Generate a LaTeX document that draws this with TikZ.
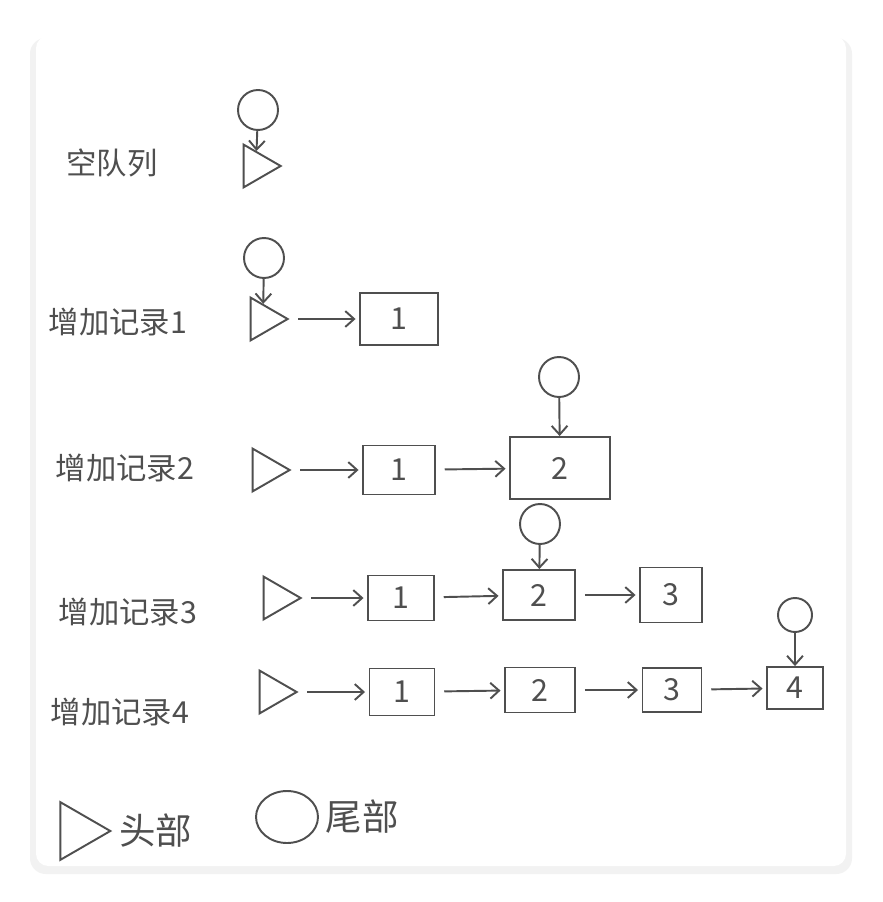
\documentclass[tikz,border=0pt]{standalone}
\usepackage{fontspec}
\setmainfont{Noto Sans CJK SC}
\usetikzlibrary{arrows.meta,shapes.geometric,positioning}
\definecolor{pencil}{HTML}{4F4F4F}
\tikzset{
  head/.style={draw, isosceles triangle, isosceles triangle apex angle=60, inner sep=0pt, minimum size=0.74cm},
  tail/.style={draw, circle, inner sep=0pt, minimum size=0.8cm},
  item/.style={draw, rectangle, inner sep=0pt, font=\LARGE},
  caption/.style={font=\LARGE},
  link/.style={->, shorten <=5pt, shorten >=2pt},
}
\begin{document}
\begin{tikzpicture}[x=0.02cm, y=-0.02cm, line width=1.1pt, draw=pencil, text=pencil,
  >={Straight Barb[length=5pt,width=9pt]}]
  % page and card
  \fill[white] (0,0) rectangle (882,902);
  \fill[black!5, rounded corners=9pt] (30,38) rectangle (852,874);
  \fill[white, rounded corners=7pt] (36,36) rectangle (846,866);

  % empty queue
  \node[caption] (empty) at (112,163) {空队列};
  \node[tail] (tail0) at (258,110) {};
  \node[head] (head0) at (256,166) {};
  \draw[->] (tail0) -- (head0);

  % one record
  \node[caption] (add1) at (118,322) {增加记录1};
  \node[tail] (tail1) at (264,258) {};
  \node[head] (head1) at (263,319) {};
  \node[item, minimum width=1.56cm, minimum height=1.04cm] (r1n1) at (399,319) {1};
  \draw[->] (tail1) -- (head1);
  \draw[link] (head1) -- (r1n1);

  % two records
  \node[caption] (add2) at (125,468) {增加记录2};
  \node[head] (head2) at (265,470) {};
  \node[item, minimum width=1.44cm, minimum height=0.98cm] (r2n1) at (399,470) {1};
  \node[item, minimum width=2.0cm, minimum height=1.24cm] (r2n2) at (560,468) {2};
  \node[tail] (tail2) at (559,377) {};
  \draw[link] (head2) -- (r2n1);
  \draw[link] (r2n1) -- (r2n2);
  \draw[->] (tail2) -- (r2n2);

  % three records
  \node[caption] (add3) at (128,612) {增加记录3};
  \node[head] (head3) at (276,598) {};
  \node[item, minimum width=1.32cm, minimum height=0.9cm] (r3n1) at (401,598) {1};
  \node[item, minimum width=1.44cm, minimum height=1.0cm] (r3n2) at (539,595) {2};
  \node[item, minimum width=1.24cm, minimum height=1.1cm] (r3n3) at (671,595) {3};
  \node[tail] (tail3) at (540,524) {};
  \draw[link] (head3) -- (r3n1);
  \draw[link] (r3n1) -- (r3n2);
  \draw[link] (r3n2) -- (r3n3);
  \draw[->] (tail3) -- (r3n2);

  % four records
  \node[caption] (add4) at (120,712) {增加记录4};
  \node[head] (head4) at (272,692) {};
  \node[item, minimum width=1.3cm, minimum height=0.94cm] (r4n1) at (402,692) {1};
  \node[item, minimum width=1.4cm, minimum height=0.9cm] (r4n2) at (540,690) {2};
  \node[item, minimum width=1.18cm, minimum height=0.88cm] (r4n3) at (672,690) {3};
  \node[item, minimum width=1.12cm, minimum height=0.84cm] (r4n4) at (795,688) {4};
  \node[tail, minimum size=0.68cm] (tail4) at (795,615) {};
  \draw[link] (head4) -- (r4n1);
  \draw[link] (r4n1) -- (r4n2);
  \draw[link] (r4n2) -- (r4n3);
  \draw[link] (r4n3) -- (r4n4);
  \draw[->] (tail4) -- (r4n4);

  % legend
  \node[head, minimum size=1.0cm] (keyhead) at (77,831) {};
  \node[caption, font=\huge, right=0pt of keyhead] (keyheadtext) {头部};
  \node[draw, ellipse, inner sep=0pt, minimum width=1.24cm, minimum height=1.04cm] (keytail) at (287,817) {};
  \node[caption, font=\huge, right=0pt of keytail] (keytailtext) {尾部};
\end{tikzpicture}
\end{document}
